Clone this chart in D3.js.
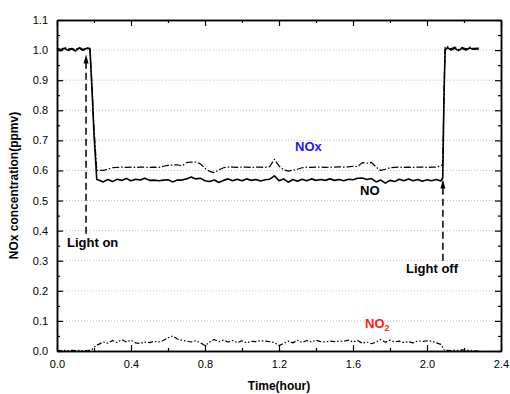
<!DOCTYPE html>
<html>
<head>
<meta charset="utf-8">
<script src="https://cdn.jsdelivr.net/npm/d3@7"></script>
<style>
  body { margin: 0; background: #fff; }
  svg { font-family: "Liberation Sans", Arial, sans-serif; }
  .tick text { font-size: 11px; fill: #000; }
  .title { font-size: 12px; font-weight: bold; }
  .note { font-size: 13px; font-weight: bold; }
</style>
</head>
<body>
<svg id="chart" width="510" height="394"></svg>
<script>
// time axis (hours) shared by the three traces
const timeHours = [
  0, 0.02, 0.04, 0.06, 0.08, 0.10, 0.12, 0.14, 0.16, 0.178, 0.19, 0.2, 0.215,
  0.225, 0.25, 0.275, 0.3, 0.325, 0.35, 0.375, 0.4, 0.425, 0.45, 0.475, 0.5,
  0.525, 0.55, 0.575, 0.6, 0.625, 0.65, 0.675, 0.7, 0.725, 0.75, 0.775, 0.8,
  0.825, 0.85, 0.875, 0.9, 0.925, 0.95, 0.975, 1.0, 1.025, 1.05, 1.075, 1.1,
  1.125, 1.15, 1.175, 1.2, 1.225, 1.25, 1.275, 1.3, 1.325, 1.35, 1.375, 1.4,
  1.425, 1.45, 1.475, 1.5, 1.525, 1.55, 1.575, 1.6, 1.625, 1.65, 1.675, 1.7,
  1.725, 1.75, 1.775, 1.8, 1.825, 1.85, 1.875, 1.9, 1.925, 1.95, 1.975, 2.0,
  2.025, 2.05, 2.075,
  2.085, 2.092, 2.098, 2.11, 2.13, 2.15, 2.17, 2.19, 2.21, 2.23, 2.25, 2.28
];

const noPpmv = [
  1.003, 0.998, 1.006, 0.999, 1.004, 0.997, 1.007, 0.999, 1.006, 1.005, 0.86, 0.72, 0.57,
  .568, .562, .570, .563, .571, .567, .573, .566, .571, .568, .574, .567,
  .568, .566, .568, .569, .562, .568, .568, .572, .578, .572, .574, .566,
  .563, .568, .560, .567, .572, .566, .571, .566, .572, .567, .570, .565,
  .569, .571, .582, .566, .572, .561, .570, .564, .571, .566, .572, .567,
  .570, .567, .572, .567, .570, .566, .571, .569, .574, .575, .570, .573,
  .562, .568, .558, .567, .563, .571, .566, .572, .566, .570, .564, .569,
  .566, .570, .565,
  0.575, 0.85, 1.0, 1.008, 1.0, 1.006, 0.998, 1.006, 1.0, 1.007, 1.003, 1.004
];

const noxPpmv = [
  1.008, 1.002, 1.009, 1.003, 1.006, 1.001, 1.010, 1.002, 1.008, 1.006, 0.87, 0.74, 0.60,
  .600, .600, .604, .609, .610, .611, .610, .611, .610, .611, .611, .610,
  .611, .610, .614, .617, .618, .619, .615, .626, .628, .628, .622, .607,
  .597, .593, .602, .609, .611, .611, .610, .611, .611, .610, .611, .611,
  .610, .613, .637, .615, .602, .598, .601, .604, .609, .611, .610, .611,
  .611, .610, .611, .611, .612, .611, .612, .614, .613, .626, .624, .627,
  .611, .600, .604, .609, .610, .611, .610, .611, .610, .611, .611, .610,
  .611, .611, .616,
  0.62, 0.87, 1.01, 1.012, 1.004, 1.010, 1.002, 1.009, 1.004, 1.010, 1.006, 1.007
];

const no2Ppmv = [
  .002, .001, .002, .001, .002, .001, .002, .001, .001, .002, .006, .012, .020,
  .022, .030, .026, .035, .028, .038, .030, .036, .027, .025, .030, .028,
  .032, .030, .035, .044, .050, .040, .036, .033, .030, .034, .027, .018,
  .030, .038, .031, .036, .030, .035, .028, .034, .027, .032, .031, .034,
  .033, .031, .028, .018, .025, .033, .027, .036, .028, .035, .030, .036,
  .031, .030, .033, .031, .033, .032, .036, .030, .035, .026, .030, .024,
  .030, .038, .029, .036, .030, .033, .028, .031, .027, .033, .032, .034,
  .033, .027, .022,
  .012, .004, 0, .002, .001, .003, .002, .004, .002, .003, .001, 0
];

const xTicks = [0, 0.4, 0.8, 1.2, 1.6, 2.0, 2.4];
const yTicks = [0, 0.1, 0.2, 0.3, 0.4, 0.5, 0.6, 0.7, 0.8, 0.9, 1.0, 1.1];

// arrows: [time, from, to]
const lightOn = [0.157, 0.39, 0.985];
const lightOff = [2.086, 0.30, 0.57];

const svg = d3.select('#chart');
const plotLeft = 57, plotRight = 501, plotTop = 20, plotBottom = 351;

const x = d3.scaleLinear().domain([0, 2.4]).range([plotLeft, plotRight]);
const y = d3.scaleLinear().domain([0, 1.1]).range([plotBottom, plotTop]);

//  horizontal dotted grid
svg.append('g').selectAll('line')
    .data(yTicks.slice(1, -1))
    .join('line')
    .attr('x1', plotLeft).attr('x2', plotRight)
    .attr('y1', d => y(d)).attr('y2', d => y(d))
    .attr('stroke', '#bbb').attr('stroke-width', 1)
    .attr('stroke-dasharray', '1,2');

//  axes, ticks pointing inward
const minorX = d3.range(0.2, 2.4, 0.4);
const minorY = d3.range(0.05, 1.1, 0.1);

function addAxis(axis, tx, ty) {
    const g = svg.append('g').attr('transform', `translate(${tx},${ty})`).call(axis);
    g.select('.domain').attr('stroke-width', 1.5);
    g.selectAll('.tick line').attr('stroke-width', 1.2);
    return g;
}

addAxis(d3.axisBottom(x).tickValues(xTicks).tickFormat(d3.format('.1f'))
    .tickSizeInner(-6).tickSizeOuter(0).tickPadding(9), 0, plotBottom);
addAxis(d3.axisBottom(x).tickValues(minorX).tickFormat('')
    .tickSizeInner(-3).tickSizeOuter(0), 0, plotBottom);
addAxis(d3.axisLeft(y).tickValues(yTicks).tickFormat(d3.format('.1f'))
    .tickSizeInner(-6).tickSizeOuter(0).tickPadding(9), plotLeft, 0);
addAxis(d3.axisLeft(y).tickValues(minorY).tickFormat('')
    .tickSizeInner(-3).tickSizeOuter(0), plotLeft, 0);
addAxis(d3.axisTop(x).tickValues(xTicks).tickFormat('')
    .tickSizeInner(-6).tickSizeOuter(0), 0, plotTop);
addAxis(d3.axisTop(x).tickValues(minorX).tickFormat('')
    .tickSizeInner(-3).tickSizeOuter(0), 0, plotTop);
addAxis(d3.axisRight(y).tickValues(yTicks).tickFormat('')
    .tickSizeInner(-6).tickSizeOuter(0), plotRight, 0);
addAxis(d3.axisRight(y).tickValues(minorY).tickFormat('')
    .tickSizeInner(-3).tickSizeOuter(0), plotRight, 0);

//  the three traces
const line = d3.line().x(d => x(d[0])).y(d => y(d[1]));
const traces = [
    { values: noxPpmv, dash: '7,2,1.5,2', width: 1.2 },
    { values: no2Ppmv, dash: '5,2,1.5,2,1.5,2', width: 1.2 },
    { values: noPpmv, dash: null, width: 1.6 }
];
traces.forEach(t => {
    svg.append('path')
        .datum(timeHours.map((h, i) => [h, t.values[i]]))
        .attr('d', line)
        .attr('fill', 'none')
        .attr('stroke', '#000')
        .attr('stroke-width', t.width)
        .attr('stroke-linejoin', 'round')
        .attr('stroke-dasharray', t.dash);
});

//  light on / off arrows (dashed shaft + filled head)
[lightOn, lightOff].forEach(a => {
    const ax = x(a[0]), tipY = y(a[2]);
    svg.append('line')
        .attr('x1', ax).attr('x2', ax)
        .attr('y1', y(a[1])).attr('y2', tipY + 6)
        .attr('stroke', '#000').attr('stroke-width', 1.5)
        .attr('stroke-dasharray', '7,4');
    svg.append('path')
        .attr('d', `M${ax},${tipY} L${ax - 2.5},${tipY + 9} L${ax + 2.5},${tipY + 9} Z`)
        .attr('fill', '#000');
});

svg.append('text').attr('class', 'note').attr('x', 67).attr('y', 247).text('Light on');
svg.append('text').attr('class', 'note').attr('x', 406).attr('y', 273).text('Light off');
svg.append('text').attr('class', 'note').attr('x', 295).attr('y', 151)
    .attr('fill', '#1a1aff').text('NOx');
svg.append('text').attr('class', 'note').attr('x', 360).attr('y', 195).text('NO');
const no2 = svg.append('text').attr('class', 'note').attr('x', 365).attr('y', 328)
    .attr('fill', '#ff1a1a').text('NO');
no2.append('tspan').attr('dy', 3).style('font-size', '9px').text('2');

//  axis titles
svg.append('text').attr('class', 'title')
    .attr('x', (plotLeft + plotRight) / 2).attr('y', 390)
    .attr('text-anchor', 'middle').text('Time(hour)');
svg.append('text').attr('class', 'title')
    .attr('transform', `translate(18,${(plotTop + plotBottom) / 2}) rotate(-90)`)
    .attr('text-anchor', 'middle').text('NOx concentration(ppmv)');
</script>
</body>
</html>
